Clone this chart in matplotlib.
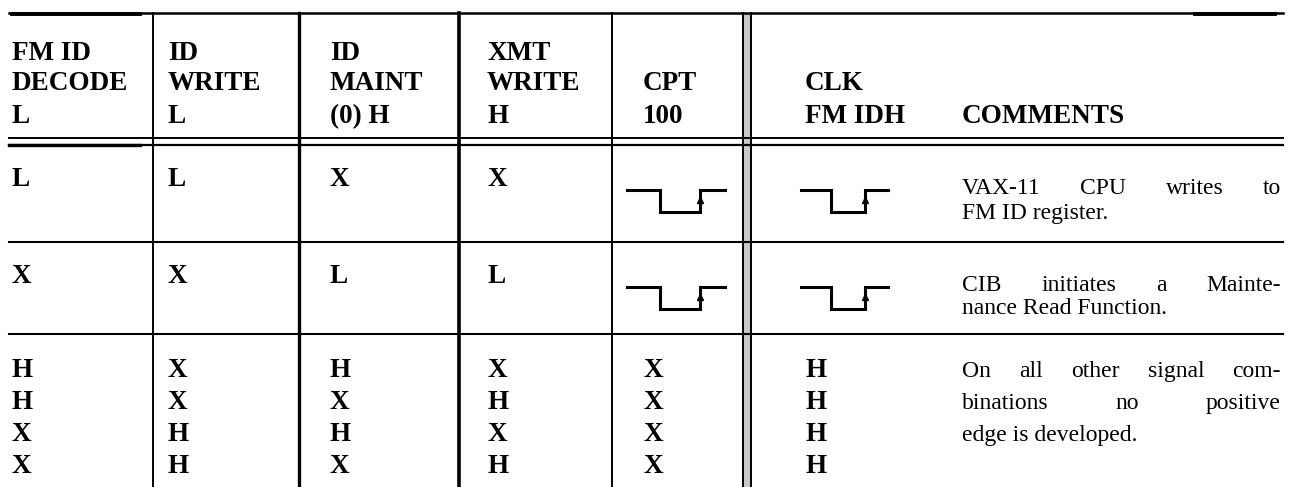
import matplotlib
matplotlib.use("Agg")
import matplotlib.pyplot as plt

# header, three text lines per column
head_top = ["FM ID", "ID", "ID", "XMT", "", "", ""]
head_mid = ["DECODE", "WRITE", "MAINT", "WRITE", "CPT", "CLK", ""]
head_bot = ["L", "L", "(0) H", "H", "100", "FM IDH", "COMMENTS"]

# signal levels
row1 = ["L", "L", "X", "X"]
row2 = ["X", "X", "L", "L"]
row3 = [["H", "H", "X", "X"],
        ["X", "X", "H", "H"],
        ["H", "X", "H", "X"],
        ["X", "H", "X", "H"],
        ["X", "X", "X", "X"],
        ["H", "H", "H", "H"]]

comment1 = ["VAX-11 CPU writes to", "FM ID register."]
comment2 = ["CIB initiates a Mainte-", "nance Read Function."]
comment3 = ["On all other signal com-", "binations no positive", "edge is developed."]

# clock pulse shape (fraction of width, level)
pulse_t = [0, 0.34, 0.34, 0.74, 0.74, 1.0]
pulse_v = [1, 1, 0, 0, 1, 1]


"""layout, in pixels"""
W, H = 1291, 487
col_x = [12, 168, 330, 487, 643, 805, 962]
vlines = [153, 299, 459, 612]
vthick = [1.4, 2.4, 2.6, 1.4]
head_base = [60, 90, 123]
row_base = [186, 283]
com_base = [[194, 219], [291, 314]]
r3_base = [377, 409, 441, 473]
right_edge = 1281
pulse_x = [(627, 725), (801, 888)]
pulse_top = [190, 287]
pulse_h = 22

fig = plt.figure(figsize=(W / 100, H / 100), dpi=100)
ax = fig.add_axes([0, 0, 1, 1])
ax.set_xlim(0, W)
ax.set_ylim(H, 0)
ax.axis("off")

bold = dict(family="Liberation Serif", weight="bold", size=19.5, color="black")
norm = dict(family="Liberation Serif", size=17, color="black")

# rules
ax.plot([9, 1283], [13, 13], color="black", lw=1.8)
ax.plot([12, 140], [13.5, 13.5], color="black", lw=2.8)   # heavier ink bits of the scan
ax.plot([1195, 1275], [13.5, 13.5], color="black", lw=2.8)
ax.plot([9, 1283], [138, 138], color="black", lw=1.4)
ax.plot([9, 1283], [144.5, 144.5], color="black", lw=1.6)
ax.plot([9, 140], [145, 145], color="black", lw=2.4)
ax.plot([9, 1283], [242, 242], color="black", lw=1.5)
ax.plot([9, 1283], [334, 334], color="black", lw=1.5)
for x, lw in zip(vlines, vthick):
    ax.plot([x, x], [13, H], color="black", lw=lw)
ax.fill_between([743, 751], 13, H, color="#c8c8c8", lw=0)
ax.plot([743, 743], [13, H], color="black", lw=1.4)
ax.plot([751, 751], [13, H], color="black", lw=1.4)

# header
for i in range(7):
    for txt, y in zip([head_top[i], head_mid[i], head_bot[i]], head_base):
        if txt:
            ax.text(col_x[i], y, txt, va="baseline", ha="left", **bold)

# first two rows
for vals, y in zip([row1, row2], row_base):
    for i, v in enumerate(vals):
        ax.text(col_x[i], y, v, va="baseline", ha="left", **bold)

# pulses in CPT and CLK columns
for top in pulse_top:
    for x0, x1 in pulse_x:
        xs = [x0 + t * (x1 - x0) for t in pulse_t]
        ys = [top + (1 - v) * pulse_h for v in pulse_v]
        ax.plot(xs, ys, color="black", lw=2.2, solid_joinstyle="miter")
        xr = xs[3]
        ax.plot(xr, top + pulse_h * 0.45, marker="^", ms=5, color="black")

# last group
for i, col in enumerate(row3):
    for v, y in zip(col, r3_base):
        ax.text(col_x[i], y, v, va="baseline", ha="left", **bold)

# comments, justified like the printed page
fig.canvas.draw()
renderer = fig.canvas.get_renderer()


def put_line(txt, y, justify):
    if not justify:
        ax.text(col_x[6], y, txt, va="baseline", ha="left", **norm)
        return
    words = txt.split()
    objs = [ax.text(0, y, w, va="baseline", ha="left", **norm) for w in words]
    widths = [o.get_window_extent(renderer).width for o in objs]
    gap = (right_edge - col_x[6] - sum(widths)) / (len(words) - 1)
    x = col_x[6]
    for o, w in zip(objs, widths):
        o.set_x(x)
        x += w + gap


for lines, bases in zip([comment1, comment2, comment3],
                        com_base + [r3_base[:3]]):
    for k, (txt, y) in enumerate(zip(lines, bases)):
        put_line(txt, y, k < len(lines) - 1)

fig.savefig("out.png", dpi=100, facecolor="white")
